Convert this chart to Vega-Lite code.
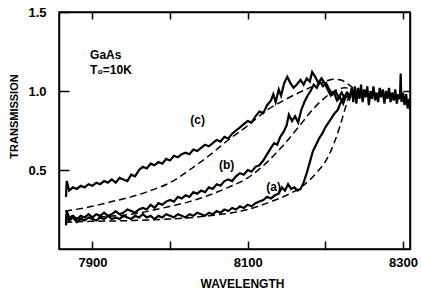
{
  "$schema": "https://vega.github.io/schema/vega-lite/v6.json",
  "width": 351,
  "height": 237,
  "autosize": "none",
  "padding": {"left": 59, "top": 12, "right": 11, "bottom": 43},
  "background": "white",
  "config": {
    "view": {"stroke": "black", "strokeWidth": 1.5},
    "axis": {"grid": false, "domainColor": "black", "domainWidth": 1.5, "tickColor": "black", "tickWidth": 1.5, "labelFont": "Liberation Sans", "labelFontWeight": "bold", "labelFontSize": 13, "labelColor": "black", "titleFont": "Liberation Sans", "titleFontWeight": "bold", "titleColor": "black"}
  },
  "datasets": {
    "solid": [
      {"s":"c","w":7866,"t":0.33},{"s":"c","w":7867,"t":0.43},{"s":"c","w":7870,"t":0.37},{"s":"c","w":7875,"t":0.39},{"s":"c","w":7880,"t":0.38},{"s":"c","w":7885,"t":0.40},{"s":"c","w":7890,"t":0.39},{"s":"c","w":7895,"t":0.41},{"s":"c","w":7900,"t":0.40},{"s":"c","w":7905,"t":0.42},{"s":"c","w":7910,"t":0.41},{"s":"c","w":7915,"t":0.43},{"s":"c","w":7920,"t":0.42},{"s":"c","w":7925,"t":0.44},{"s":"c","w":7930,"t":0.42},{"s":"c","w":7935,"t":0.45},{"s":"c","w":7940,"t":0.44},{"s":"c","w":7945,"t":0.43},{"s":"c","w":7950,"t":0.47},{"s":"c","w":7955,"t":0.46},{"s":"c","w":7960,"t":0.50},{"s":"c","w":7965,"t":0.52},{"s":"c","w":7970,"t":0.51},{"s":"c","w":7975,"t":0.54},{"s":"c","w":7980,"t":0.53},{"s":"c","w":7985,"t":0.55},{"s":"c","w":7990,"t":0.54},{"s":"c","w":7995,"t":0.57},{"s":"c","w":8000,"t":0.56},{"s":"c","w":8005,"t":0.59},{"s":"c","w":8010,"t":0.58},{"s":"c","w":8015,"t":0.60},{"s":"c","w":8020,"t":0.61},{"s":"c","w":8025,"t":0.60},{"s":"c","w":8030,"t":0.63},{"s":"c","w":8035,"t":0.62},{"s":"c","w":8040,"t":0.64},{"s":"c","w":8045,"t":0.66},{"s":"c","w":8050,"t":0.65},{"s":"c","w":8055,"t":0.67},{"s":"c","w":8060,"t":0.69},{"s":"c","w":8065,"t":0.68},{"s":"c","w":8070,"t":0.71},{"s":"c","w":8075,"t":0.70},{"s":"c","w":8080,"t":0.73},{"s":"c","w":8085,"t":0.75},{"s":"c","w":8090,"t":0.77},{"s":"c","w":8095,"t":0.79},{"s":"c","w":8100,"t":0.81},{"s":"c","w":8105,"t":0.80},{"s":"c","w":8110,"t":0.84},{"s":"c","w":8115,"t":0.87},{"s":"c","w":8120,"t":0.86},{"s":"c","w":8125,"t":0.91},{"s":"c","w":8130,"t":0.94},{"s":"c","w":8133,"t":0.98},{"s":"c","w":8136,"t":0.93},{"s":"c","w":8140,"t":1.01},{"s":"c","w":8143,"t":0.97},{"s":"c","w":8147,"t":1.05},{"s":"c","w":8151,"t":1.09},{"s":"c","w":8155,"t":1.05},{"s":"c","w":8159,"t":1.02},{"s":"c","w":8163,"t":1.04},{"s":"c","w":8168,"t":1.07},{"s":"c","w":8172,"t":1.04},{"s":"c","w":8176,"t":1.08},{"s":"c","w":8180,"t":1.06},{"s":"c","w":8183,"t":1.12},{"s":"c","w":8187,"t":1.09},{"s":"c","w":8191,"t":1.05},{"s":"c","w":8195,"t":1.08},{"s":"c","w":8199,"t":1.05},{"s":"c","w":8203,"t":1.01},{"s":"c","w":8207,"t":0.97},{"s":"c","w":8211,"t":0.99},{"s":"c","w":8215,"t":0.94},{"s":"c","w":8219,"t":0.96},{"s":"c","w":8223,"t":0.92},{"s":"c","w":8227,"t":0.98},{"s":"c","w":8231,"t":0.95},
      {"s":"c","w":8234,"t":1.02},{"s":"c","w":8236,"t":0.93},{"s":"c","w":8238,"t":1.03},{"s":"c","w":8240,"t":0.92},{"s":"c","w":8242,"t":1.02},{"s":"c","w":8244,"t":0.95},{"s":"c","w":8246,"t":1.04},{"s":"c","w":8248,"t":0.93},{"s":"c","w":8250,"t":1.01},{"s":"c","w":8252,"t":0.96},{"s":"c","w":8254,"t":1.03},{"s":"c","w":8256,"t":0.91},{"s":"c","w":8258,"t":1.00},{"s":"c","w":8260,"t":0.95},{"s":"c","w":8262,"t":1.03},{"s":"c","w":8264,"t":0.94},{"s":"c","w":8266,"t":0.99},{"s":"c","w":8268,"t":0.93},{"s":"c","w":8270,"t":1.02},{"s":"c","w":8272,"t":0.96},{"s":"c","w":8274,"t":1.01},{"s":"c","w":8276,"t":0.92},{"s":"c","w":8278,"t":1.00},{"s":"c","w":8280,"t":0.95},{"s":"c","w":8282,"t":1.02},{"s":"c","w":8284,"t":0.93},{"s":"c","w":8286,"t":0.99},{"s":"c","w":8288,"t":0.94},{"s":"c","w":8290,"t":1.01},{"s":"c","w":8292,"t":0.92},{"s":"c","w":8294,"t":0.98},{"s":"c","w":8296,"t":0.95},{"s":"c","w":8297,"t":1.11},{"s":"c","w":8298,"t":0.93},{"s":"c","w":8300,"t":0.99},{"s":"c","w":8302,"t":0.91},{"s":"c","w":8304,"t":0.98},{"s":"c","w":8306,"t":0.89},{"s":"c","w":8308,"t":0.95},{"s":"c","w":8309,"t":0.88},
      {"s":"b","w":7866,"t":0.17},{"s":"b","w":7867,"t":0.24},{"s":"b","w":7870,"t":0.20},{"s":"b","w":7875,"t":0.21},{"s":"b","w":7880,"t":0.19},{"s":"b","w":7885,"t":0.21},{"s":"b","w":7890,"t":0.20},{"s":"b","w":7895,"t":0.22},{"s":"b","w":7900,"t":0.20},{"s":"b","w":7905,"t":0.22},{"s":"b","w":7910,"t":0.21},{"s":"b","w":7915,"t":0.23},{"s":"b","w":7920,"t":0.21},{"s":"b","w":7925,"t":0.22},{"s":"b","w":7930,"t":0.24},{"s":"b","w":7935,"t":0.22},{"s":"b","w":7940,"t":0.23},{"s":"b","w":7945,"t":0.25},{"s":"b","w":7950,"t":0.24},{"s":"b","w":7955,"t":0.23},{"s":"b","w":7960,"t":0.25},{"s":"b","w":7965,"t":0.26},{"s":"b","w":7970,"t":0.25},{"s":"b","w":7975,"t":0.28},{"s":"b","w":7980,"t":0.26},{"s":"b","w":7985,"t":0.29},{"s":"b","w":7990,"t":0.28},{"s":"b","w":7995,"t":0.30},{"s":"b","w":8000,"t":0.31},{"s":"b","w":8005,"t":0.30},{"s":"b","w":8010,"t":0.33},{"s":"b","w":8015,"t":0.32},{"s":"b","w":8020,"t":0.34},{"s":"b","w":8025,"t":0.33},{"s":"b","w":8030,"t":0.36},{"s":"b","w":8035,"t":0.35},{"s":"b","w":8040,"t":0.37},{"s":"b","w":8045,"t":0.36},{"s":"b","w":8050,"t":0.39},{"s":"b","w":8055,"t":0.38},{"s":"b","w":8060,"t":0.41},{"s":"b","w":8065,"t":0.40},{"s":"b","w":8070,"t":0.43},{"s":"b","w":8075,"t":0.44},{"s":"b","w":8080,"t":0.43},{"s":"b","w":8085,"t":0.46},{"s":"b","w":8090,"t":0.48},{"s":"b","w":8095,"t":0.47},{"s":"b","w":8100,"t":0.50},{"s":"b","w":8105,"t":0.49},{"s":"b","w":8110,"t":0.52},{"s":"b","w":8115,"t":0.53},{"s":"b","w":8120,"t":0.56},{"s":"b","w":8125,"t":0.60},{"s":"b","w":8130,"t":0.64},{"s":"b","w":8134,"t":0.67},{"s":"b","w":8138,"t":0.66},{"s":"b","w":8142,"t":0.71},{"s":"b","w":8146,"t":0.74},{"s":"b","w":8150,"t":0.78},{"s":"b","w":8153,"t":0.85},{"s":"b","w":8157,"t":0.81},{"s":"b","w":8161,"t":0.84},{"s":"b","w":8165,"t":0.80},{"s":"b","w":8169,"t":0.88},{"s":"b","w":8173,"t":0.93},{"s":"b","w":8177,"t":0.97},{"s":"b","w":8181,"t":1.00},{"s":"b","w":8185,"t":1.04},{"s":"b","w":8189,"t":1.02},{"s":"b","w":8193,"t":1.06},{"s":"b","w":8197,"t":1.03},{"s":"b","w":8201,"t":1.05},{"s":"b","w":8205,"t":1.01},{"s":"b","w":8209,"t":0.98},{"s":"b","w":8213,"t":1.00},{"s":"b","w":8217,"t":0.96},{"s":"b","w":8221,"t":0.99},{"s":"b","w":8225,"t":0.95},{"s":"b","w":8229,"t":0.98},{"s":"b","w":8233,"t":0.96},
      {"s":"a","w":7866,"t":0.15},{"s":"a","w":7867,"t":0.22},{"s":"a","w":7870,"t":0.18},{"s":"a","w":7875,"t":0.20},{"s":"a","w":7880,"t":0.17},{"s":"a","w":7885,"t":0.19},{"s":"a","w":7890,"t":0.18},{"s":"a","w":7895,"t":0.20},{"s":"a","w":7900,"t":0.19},{"s":"a","w":7905,"t":0.18},{"s":"a","w":7910,"t":0.20},{"s":"a","w":7915,"t":0.19},{"s":"a","w":7920,"t":0.21},{"s":"a","w":7925,"t":0.19},{"s":"a","w":7930,"t":0.20},{"s":"a","w":7935,"t":0.19},{"s":"a","w":7940,"t":0.21},{"s":"a","w":7945,"t":0.20},{"s":"a","w":7950,"t":0.19},{"s":"a","w":7955,"t":0.21},{"s":"a","w":7960,"t":0.20},{"s":"a","w":7965,"t":0.22},{"s":"a","w":7970,"t":0.20},{"s":"a","w":7975,"t":0.21},{"s":"a","w":7980,"t":0.19},{"s":"a","w":7985,"t":0.21},{"s":"a","w":7990,"t":0.20},{"s":"a","w":7995,"t":0.22},{"s":"a","w":8000,"t":0.21},{"s":"a","w":8005,"t":0.20},{"s":"a","w":8010,"t":0.22},{"s":"a","w":8015,"t":0.21},{"s":"a","w":8020,"t":0.20},{"s":"a","w":8025,"t":0.22},{"s":"a","w":8030,"t":0.21},{"s":"a","w":8035,"t":0.23},{"s":"a","w":8040,"t":0.22},{"s":"a","w":8045,"t":0.21},{"s":"a","w":8050,"t":0.23},{"s":"a","w":8055,"t":0.22},{"s":"a","w":8060,"t":0.24},{"s":"a","w":8065,"t":0.23},{"s":"a","w":8070,"t":0.25},{"s":"a","w":8075,"t":0.24},{"s":"a","w":8080,"t":0.26},{"s":"a","w":8085,"t":0.25},{"s":"a","w":8090,"t":0.27},{"s":"a","w":8095,"t":0.26},{"s":"a","w":8100,"t":0.28},{"s":"a","w":8105,"t":0.27},{"s":"a","w":8110,"t":0.29},{"s":"a","w":8115,"t":0.30},{"s":"a","w":8120,"t":0.31},{"s":"a","w":8125,"t":0.33},{"s":"a","w":8130,"t":0.32},{"s":"a","w":8135,"t":0.34},{"s":"a","w":8140,"t":0.35},{"s":"a","w":8144,"t":0.39},{"s":"a","w":8148,"t":0.37},{"s":"a","w":8152,"t":0.41},{"s":"a","w":8156,"t":0.38},{"s":"a","w":8160,"t":0.39},{"s":"a","w":8164,"t":0.37},{"s":"a","w":8168,"t":0.38},{"s":"a","w":8172,"t":0.42},{"s":"a","w":8176,"t":0.48},{"s":"a","w":8180,"t":0.55},{"s":"a","w":8184,"t":0.62},{"s":"a","w":8188,"t":0.66},{"s":"a","w":8192,"t":0.70},{"s":"a","w":8196,"t":0.73},{"s":"a","w":8200,"t":0.77},{"s":"a","w":8204,"t":0.80},{"s":"a","w":8208,"t":0.83},{"s":"a","w":8212,"t":0.86},{"s":"a","w":8216,"t":0.88},{"s":"a","w":8220,"t":0.93},{"s":"a","w":8224,"t":0.96},{"s":"a","w":8228,"t":0.99},{"s":"a","w":8232,"t":0.97}
    ],
    "dashed": [
      {"s":"c","w":7865,"t":0.24},{"s":"c","w":7900,"t":0.27},{"s":"c","w":7925,"t":0.30},{"s":"c","w":7950,"t":0.33},{"s":"c","w":7975,"t":0.37},{"s":"c","w":8000,"t":0.42},{"s":"c","w":8025,"t":0.50},{"s":"c","w":8050,"t":0.59},{"s":"c","w":8075,"t":0.69},{"s":"c","w":8100,"t":0.78},{"s":"c","w":8125,"t":0.88},{"s":"c","w":8150,"t":0.95},{"s":"c","w":8175,"t":1.01},{"s":"c","w":8195,"t":1.05},{"s":"c","w":8210,"t":1.075},{"s":"c","w":8220,"t":1.07},{"s":"c","w":8230,"t":1.04},{"s":"c","w":8240,"t":1.00},
      {"s":"b","w":7865,"t":0.19},{"s":"b","w":7900,"t":0.20},{"s":"b","w":7950,"t":0.22},{"s":"b","w":8000,"t":0.27},{"s":"b","w":8025,"t":0.30},{"s":"b","w":8050,"t":0.34},{"s":"b","w":8075,"t":0.39},{"s":"b","w":8100,"t":0.45},{"s":"b","w":8125,"t":0.55},{"s":"b","w":8150,"t":0.68},{"s":"b","w":8170,"t":0.80},{"s":"b","w":8185,"t":0.89},{"s":"b","w":8200,"t":0.96},{"s":"b","w":8212,"t":1.00},{"s":"b","w":8225,"t":1.02},{"s":"b","w":8240,"t":1.00},
      {"s":"a","w":7865,"t":0.17},{"s":"a","w":7900,"t":0.175},{"s":"a","w":7950,"t":0.18},{"s":"a","w":8000,"t":0.19},{"s":"a","w":8050,"t":0.21},{"s":"a","w":8100,"t":0.25},{"s":"a","w":8130,"t":0.30},{"s":"a","w":8150,"t":0.34},{"s":"a","w":8171,"t":0.40},{"s":"a","w":8190,"t":0.49},{"s":"a","w":8202,"t":0.57},{"s":"a","w":8212,"t":0.68},{"s":"a","w":8219,"t":0.78},{"s":"a","w":8225,"t":0.88},{"s":"a","w":8230,"t":0.96},{"s":"a","w":8237,"t":1.00}
    ],
    "notes": [
      {"w":7897,"t":1.225,"label":"GaAs","size":12},
      {"w":7897,"t":1.135,"label":"T₀=10K","size":12},
      {"w":8026,"t":0.816,"label":"(c)","size":12},
      {"w":8063,"t":0.532,"label":"(b)","size":12},
      {"w":8124,"t":0.395,"label":"(a)","size":12}
    ]
  },
  "resolve": {"axis": {"x": "independent", "y": "independent"}},
  "layer": [
    {
      "data": {"name": "solid"},
      "mark": {"type": "line", "color": "black", "strokeWidth": 2.2, "clip": true},
      "encoding": {
        "x": {"field": "w", "type": "quantitative", "scale": {"domain": [7857, 8309], "nice": false, "zero": false},
          "axis": {"orient": "bottom", "values": [7900, 8000, 8100, 8200, 8300], "format": "d", "labelExpr": "datum.value % 200 == 100 ? datum.label : ''", "tickSize": -8, "labelPadding": 15, "title": "WAVELENGTH", "titleFontSize": 12, "titleX": 183, "titleY": 38, "titleBaseline": "alphabetic"}},
        "y": {"field": "t", "type": "quantitative", "scale": {"domain": [0, 1.5], "nice": false},
          "axis": {"orient": "left", "values": [0.5, 1.0, 1.5], "format": ".1f", "tickSize": -10, "labelPadding": 23, "title": "TRANSMISSION", "titleFontSize": 11, "titleX": -45, "titleY": 104, "titleAngle": 270, "titleBaseline": "middle", "titleAlign": "center"}},
        "detail": {"field": "s"}
      }
    },
    {
      "data": {"name": "dashed"},
      "mark": {"type": "line", "color": "black", "strokeWidth": 1.5, "strokeDash": [7, 4], "interpolate": "monotone", "clip": true},
      "encoding": {
        "x": {"field": "w", "type": "quantitative", "axis": {"orient": "top", "values": [7900, 8000, 8100, 8200, 8300], "labels": false, "tickSize": -7, "title": null}},
        "y": {"field": "t", "type": "quantitative", "axis": {"orient": "right", "values": [1.0], "labels": false, "tickSize": -7, "title": null}},
        "detail": {"field": "s"}
      }
    },
    {
      "data": {"name": "notes"},
      "mark": {"type": "text", "align": "left", "baseline": "middle", "font": "Liberation Sans", "fontWeight": "bold", "color": "black"},
      "encoding": {
        "x": {"field": "w", "type": "quantitative", "axis": null},
        "y": {"field": "t", "type": "quantitative", "axis": null},
        "text": {"field": "label"},
        "size": {"field": "size", "type": "quantitative", "scale": null, "legend": null}
      }
    }
  ]
}
